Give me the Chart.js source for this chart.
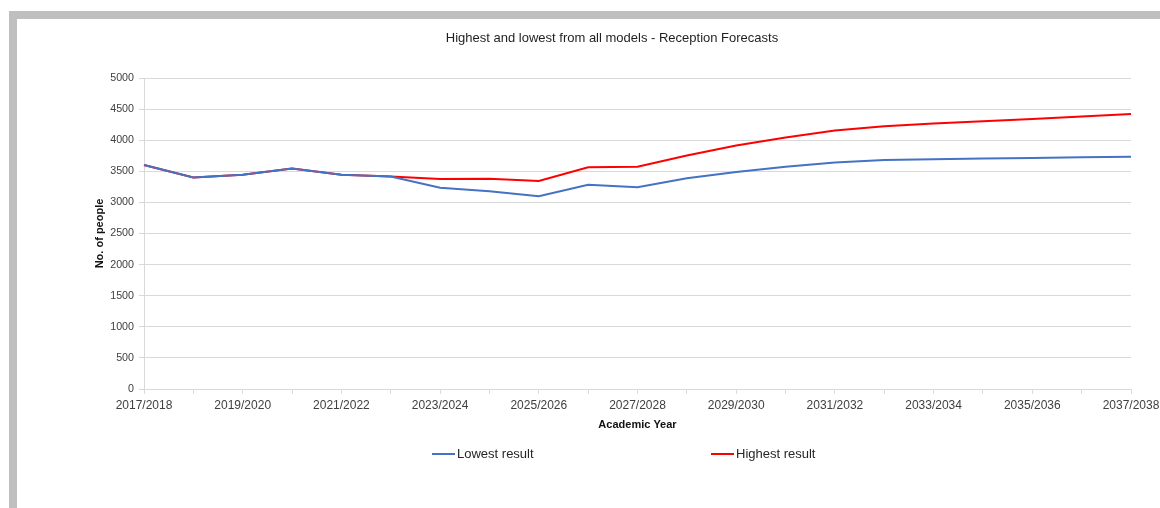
<!DOCTYPE html>
<html>
<head>
<meta charset="utf-8">
<title>Reception Forecasts</title>
<script src="https://cdn.jsdelivr.net/npm/chart.js@4/dist/chart.umd.min.js"></script>
<style>
  html, body { margin: 0; padding: 0; background: #fff; }
  body { width: 1160px; height: 508px; position: relative; overflow: hidden; font-family: "Liberation Sans", Arial, sans-serif; }
  .frame {
    position: absolute; left: 9px; top: 11px; right: 0; bottom: 0;
    border-top: 8px solid #bfbfbf; border-left: 8px solid #bfbfbf;
  }
  #chart { position: absolute; left: 0; top: 0; }
  .legend { position: absolute; top: 445px; font-size: 13px; color: #262626; line-height: 18px; white-space: nowrap; }
  .legend .swatch { display: inline-block; width: 23px; height: 2px; vertical-align: middle; margin-right: 2px; position: relative; top: -1px; }
</style>
</head>
<body>
<div class="frame"></div>
<canvas id="chart" width="1160" height="508"></canvas>
<div class="legend" style="left:432px"><span class="swatch" style="background:#4472c4"></span>Lowest result</div>
<div class="legend" style="left:711px"><span class="swatch" style="background:#ff0000"></span>Highest result</div>

<script>
// ── DATA ──
const years = [
  '2017/2018', '2018/2019', '2019/2020', '2020/2021', '2021/2022', '2022/2023', '2023/2024',
  '2024/2025', '2025/2026', '2026/2027', '2027/2028', '2028/2029', '2029/2030', '2030/2031',
  '2031/2032', '2032/2033', '2033/2034', '2034/2035', '2035/2036', '2036/2037', '2037/2038'
];
const lowest  = [3600, 3400, 3445, 3545, 3445, 3415, 3235, 3180, 3100, 3285, 3245, 3390, 3490, 3575, 3640, 3680, 3695, 3705, 3715, 3725, 3735];
const highest = [3600, 3400, 3445, 3545, 3445, 3415, 3375, 3380, 3345, 3565, 3575, 3755, 3915, 4045, 4155, 4225, 4270, 4305, 4340, 4380, 4420];

const FONT = '"Liberation Sans", Arial, sans-serif';
const GRID = '#d9d9d9';

new Chart(document.getElementById('chart'), {
  type: 'line',
  data: {
    labels: years,
    datasets: [
      { label: 'Lowest result',  data: lowest,  borderColor: '#4472c4', borderWidth: 2, pointRadius: 0, tension: 0, fill: false },
      { label: 'Highest result', data: highest, borderColor: '#ff0000', borderWidth: 2, pointRadius: 0, tension: 0, fill: false }
    ]
  },
  options: {
    responsive: false,
    animation: false,
    devicePixelRatio: 1,
    layout: { padding: { left: 93, right: 29, top: 0, bottom: 76 } },
    plugins: {
      legend: { display: false },
      tooltip: { enabled: false },
      title: {
        display: true,
        text: 'Highest and lowest from all models - Reception Forecasts',
        color: '#1f1f1f',
        font: { family: FONT, size: 13, weight: 'normal' },
        padding: { top: 31, bottom: 31.4 }
      }
    },
    scales: {
      x: {
        afterFit: s => { s.height = 43; s.paddingLeft = 0; s.paddingRight = 0; },
        grid: { display: true, drawOnChartArea: false, drawTicks: true, tickLength: 5, color: GRID },
        border: { color: GRID },
        ticks: {
          autoSkip: false, maxRotation: 0, padding: 4,
          color: '#404040',
          font: { family: FONT, size: 12 },
          callback: (v, i) => i % 2 === 0 ? years[i] : ''
        },
        title: {
          display: true, text: 'Academic Year', color: '#111',
          font: { family: FONT, size: 11, weight: 'bold' },
          padding: 0
        }
      },
      y: {
        min: 0, max: 5000,
        afterFit: s => { s.width = 51; },
        grid: { color: GRID, tickLength: 5 },
        border: { color: GRID },
        ticks: {
          stepSize: 500, padding: 5,
          color: '#404040',
          font: { family: FONT, size: 10.7 },
          callback: v => String(v)
        },
        title: {
          display: true, text: 'No. of people', color: '#111',
          font: { family: FONT, size: 11, weight: 'bold' },
          padding: 0
        }
      }
    }
  }
});
</script>
</body>
</html>
